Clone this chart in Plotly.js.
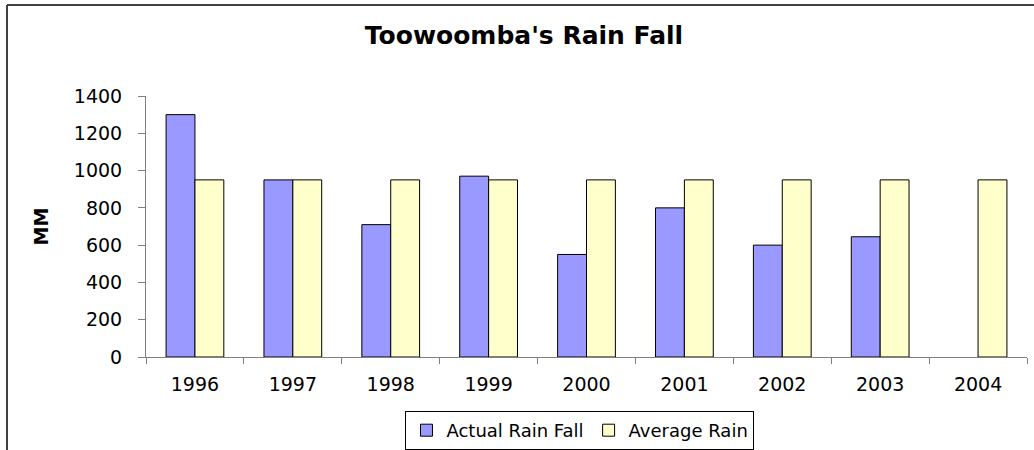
<!DOCTYPE html>
<html>
<head>
<meta charset="utf-8">
<script src="https://cdn.plot.ly/plotly-3.0.1.min.js"></script>
<style>
  html, body { margin: 0; padding: 0; background: #ffffff; }
  #chart { width: 1034px; height: 450px; }
</style>
</head>
<body>
<div id="chart"></div>
<script>
const years = ['1996', '1997', '1998', '1999', '2000', '2001', '2002', '2003', '2004'];
const actualRainFall = [1300, 950, 710, 970, 550, 800, 600, 645, null];
const averageRain = [950, 950, 950, 950, 950, 950, 950, 950, 950];
const yTickVals = [0, 200, 400, 600, 800, 1000, 1200, 1400];
const gridVals = [200, 400, 600, 800, 1000, 1200];

const FONT = 'DejaVu Sans, Arial, sans-serif';

const traces = [
  {
    type: 'bar', name: 'Actual Rain Fall', x: years, y: actualRainFall,
    yaxis: 'y2',
    marker: { color: '#9999FF', line: { color: '#000000', width: 1 } }
  },
  {
    type: 'bar', name: 'Average Rain', x: years, y: averageRain,
    yaxis: 'y2',
    marker: { color: '#FFFFCC', line: { color: '#000000', width: 1 } }
  }
];

const layout = {
  width: 1034, height: 450,
  margin: { l: 146, r: 7, t: 96, b: 93, autoexpand: false },
  paper_bgcolor: '#ffffff', plot_bgcolor: 'rgba(0,0,0,0)',
  font: { family: FONT, size: 19, color: '#000000' },
  title: {
    text: "Toowoomba's Rain Fall",
    font: { family: FONT, size: 25, color: '#000000', weight: 'bold' },
    x: 524 / 1034, xanchor: 'center', xref: 'container',
    y: 1 - 35 / 450, yanchor: 'middle', yref: 'container'
  },
  barmode: 'group', bargap: 0.41, bargroupgap: 0,
  showlegend: true,
  legend: {
    orientation: 'h', x: 0.4926, xanchor: 'center', y: (357 - 430.5) / 261, yanchor: 'middle',
    bordercolor: '#000000', borderwidth: 1, bgcolor: '#ffffff',
    font: { family: FONT, size: 18, color: '#000000' },
    traceorder: 'normal', itemwidth: 30
  },
  xaxis: {
    type: 'category', showline: true, linecolor: '#808080', linewidth: 1,
    ticks: 'outside', tickson: 'boundaries', ticklen: 6, tickcolor: '#808080', tickwidth: 1,
    showgrid: false, zeroline: false, ticklabelstandoff: 10, automargin: false,
    tickfont: { family: FONT, size: 19, color: '#000000' }
  },
  yaxis: {
    range: [0, 1400], tickvals: gridVals, showticklabels: false, ticks: '',
    showgrid: true, gridcolor: '#000000', gridwidth: 1, zeroline: false, showline: false,
    automargin: false
  },
  yaxis2: {
    overlaying: 'y', side: 'left', range: [0, 1400], tickvals: yTickVals,
    showgrid: false, zeroline: false, showline: true, linecolor: '#808080', linewidth: 1,
    ticks: 'outside', ticklen: 7, tickcolor: '#808080', tickwidth: 1, ticklabelstandoff: 12,
    automargin: false,
    tickfont: { family: FONT, size: 19, color: '#000000' }
  },
  annotations: [{
    text: '<b>MM</b>', xref: 'paper', yref: 'paper', x: (40 - 146) / 881, y: 0.5,
    xanchor: 'center', yanchor: 'middle', textangle: -90, showarrow: false,
    font: { family: FONT, size: 19, color: '#000000' }
  }],
  shapes: [
    { type: 'line', xref: 'paper', yref: 'paper', x0: (7 - 146) / 881, x1: (7 - 146) / 881,
      y0: -1, y1: (357 - 5) / 261, line: { color: '#404040', width: 2 } },
    { type: 'line', xref: 'paper', yref: 'paper', x0: (7 - 146) / 881, x1: 2,
      y0: (357 - 5) / 261, y1: (357 - 5) / 261, line: { color: '#404040', width: 2 } }
  ]
};

Plotly.newPlot('chart', traces, layout, { displayModeBar: false, staticPlot: true });
</script>
</body>
</html>
